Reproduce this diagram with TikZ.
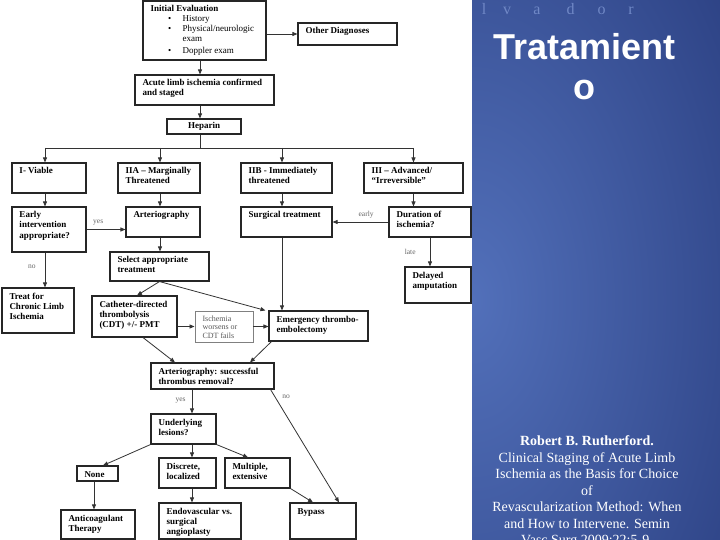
\documentclass[tikz,border=0pt]{standalone}
\usepackage{fontspec}
\setmainfont{Liberation Serif}
\newfontfamily\titlefont{Liberation Sans}
\usetikzlibrary{arrows.meta}
\definecolor{panlight}{RGB}{82,112,186}
\definecolor{pandark}{RGB}{24,40,102}
\definecolor{lvcol}{RGB}{112,136,198}
\def\fbl{11pt}
\tikzset{
 box/.style={draw=black!85, line width=1.1pt, inner xsep=7.5pt, inner ysep=0pt, fill=white, font=\fontsize{9}{10}\selectfont\bfseries},
 graybox/.style={draw=black!50, line width=0.9pt, text=black!65, font=\fontsize{8}{8.8}\selectfont\mdseries, execute at begin node={\def\fbl{10pt}}},
 arr/.style={draw=black!80, line width=0.8pt, -{Triangle[length=5pt,width=4pt]}},
 ln/.style={draw=black!80, line width=0.8pt},
 lbl/.style={font=\fontsize{7.5}{8}\selectfont, text=black!60, inner sep=0pt},
}
\newcommand\bnode[7][]{%
 \pgfmathsetmacro\bcx{#3+#5/2}%
 \pgfmathsetmacro\bcy{#4+#6/2}%
 \pgfmathsetmacro\bw{#5-15}%
 \node[box,#1] (#2) at (\bcx,\bcy) {\parbox[c][#6pt][t]{\bw pt}{\rule{0pt}{\fbl}\begin{tabular}[t]{@{}l@{}}#7\end{tabular}}};}
\begin{document}
\begin{tikzpicture}[x=1pt,y=-1pt]
\useasboundingbox (0,0) rectangle (720,540);
\fill[white] (0,0) rectangle (720,540);
% blue panel
\begin{scope}
\clip (472,0) rectangle (720,540);
\shade[inner color=panlight, outer color=pandark] (472,300) ellipse (500 and 820);
\foreach \ch/\xx [count=\i] in {l/484,v/507,a/537,d/570.5,o/601.7,r/631}
  \node[anchor=base, inner sep=0pt, text=lvcol, font=\fontsize{16}{18}\selectfont] (lv\i) at (\xx,14.5) {\ch};
\node[anchor=base, inner sep=0pt, text=white, font=\titlefont\bfseries\fontsize{36}{40}\selectfont] (t1) at (584.5,60) {Tratamient};
\node[anchor=base, inner sep=0pt, text=white, font=\titlefont\bfseries\fontsize{36}{40}\selectfont] (t2) at (584.5,100) {o};
\node[anchor=north, align=center, text=white, inner sep=0pt, font=\fontsize{14}{16.5}\selectfont] (cite) at (587,435.5) {\textbf{Robert B. Rutherford.}\\Clinical Staging of Acute Limb\\Ischemia as the Basis for Choice\\of\\Revascularization Method: When\\and How to Intervene. Semin\\Vasc Surg 2009;22:5-9.};
\end{scope}
% boxes
\bnode{init}{143}{1}{123}{59}{Initial Evaluation\\
 \mdseries\hspace{17.5pt}\textbullet\hspace{11.5pt}History\\
 \mdseries\hspace{17.5pt}\textbullet\hspace{11.5pt}Physical/neurologic\\[-0.6pt]
 \mdseries\hspace{32.2pt}exam\\[2pt]
 \mdseries\hspace{17.5pt}\textbullet\hspace{11.5pt}Doppler exam}
\bnode{other}{298}{23}{99}{22}{Other Diagnoses}
\bnode{acute}{135}{75}{139}{30}{Acute limb ischemia confirmed\\and staged}
\node[box, minimum width=74pt, minimum height=15pt, inner sep=0pt] (hep) at (204,126.5) {Heparin};
\bnode{v1}{12}{163}{74}{30}{I- Viable}
\bnode{v2}{118}{163}{82}{30}{IIA -- Marginally\\Threatened}
\bnode{v3}{241}{163}{91}{30}{IIB - Immediately\\threatened}
\bnode{v4}{364}{163}{99}{30}{III -- Advanced/\\``Irreversible''}
\bnode{early}{12}{207}{74}{45}{Early\\intervention\\appropriate?}
\bnode{arterio}{126}{207}{74}{30}{Arteriography}
\bnode{surg}{241}{207}{91}{30}{Surgical treatment}
\bnode{dur}{389}{207}{82}{30}{Duration of\\ischemia?}
\bnode{select}{110}{252}{99}{29}{Select appropriate\\treatment}
\bnode{treat}{2}{288}{72}{45}{Treat for\\Chronic Limb\\Ischemia}
\bnode{delayed}{405}{267}{66}{36}{Delayed\\amputation}
\bnode{cdt}{92}{296}{85}{41}{Catheter-directed\\thrombolysis\\(CDT) +/- PMT}
\bnode[graybox]{isch}{195}{311}{58}{31}{Ischemia\\worsens or\\CDT fails}
\bnode{emerg}{269}{311}{99}{30}{Emergency thrombo-\\embolectomy}
\bnode{succ}{151}{363}{123}{26}{Arteriography: successful\\thrombus removal?}
\bnode{under}{151}{414}{65}{30}{Underlying\\lesions?}
\bnode{none}{77}{466}{41}{15}{None}
\bnode{discrete}{159}{458}{57}{30}{Discrete,\\localized}
\bnode{multi}{225}{458}{65}{30}{Multiple,\\extensive}
\bnode{antico}{61}{510}{74}{29}{Anticoagulant\\Therapy}
\bnode{endo}{159}{503}{82}{36}{Endovascular vs.\\surgical\\angioplasty}
\bnode{bypass}{290}{503}{66}{36}{Bypass}
% connectors
\draw[arr] (init.east |- other.west) -- (other.west);
\draw[arr] ([xshift=-4.5pt]init.south) -- ([xshift=-4.5pt]init.south |- acute.north);
\draw[arr] ([xshift=-4.5pt]acute.south) -- ([xshift=-4.5pt]acute.south |- hep.north);
\coordinate (bus) at (200,148);
\draw[ln] ([xshift=-4pt]hep.south) -- ([xshift=-4pt]hep.south |- bus);
\draw[ln] ([xshift=-4pt]v1.north |- bus) -- (v4.north |- bus);
\draw[arr] ([xshift=-4pt]v1.north |- bus) -- ([xshift=-4pt]v1.north);
\draw[arr] ([xshift=1pt]v2.north |- bus) -- ([xshift=1pt]v2.north);
\draw[arr] ([xshift=-4.5pt]v3.north |- bus) -- ([xshift=-4.5pt]v3.north);
\draw[arr] (v4.north |- bus) -- (v4.north);
\draw[arr] ([xshift=-4pt]v1.south) -- ([xshift=-4pt]v1.south |- early.north);
\draw[arr] ([xshift=1pt]v2.south) -- ([xshift=1pt]v2.south |- arterio.north);
\draw[arr] ([xshift=-4.5pt]v3.south) -- ([xshift=-4.5pt]v3.south |- surg.north);
\draw[arr] (v4.south) -- (v4.south |- dur.north);
\draw[arr] (early.east) -- (early.east -| arterio.west) node[lbl, pos=0.3, above=4pt] (lyes1) {yes};
\draw[arr] ([xshift=-4pt]early.south) -- ([xshift=-4pt]early.south |- treat.north) node[lbl, pos=0.4, left=9pt] (lno1) {no};
\draw[arr] ([xshift=-3pt]arterio.south) -- ([xshift=-3pt]arterio.south |- select.north);
\draw[arr] (dur.west) -- (dur.west -| surg.east) node[lbl, pos=0.4, above=3pt] (learly) {early};
\draw[arr] (dur.south) -- (dur.south |- delayed.north) node[lbl, pos=0.5, left=14pt] (llate) {late};
\draw[arr] (select.south) -- ([xshift=2.5pt]cdt.north);
\draw[arr] (select.south) -- ([xshift=-3pt]emerg.north west);
\draw[arr] ([xshift=-4.5pt]surg.south) -- ([xshift=-4.5pt]surg.south |- emerg.north);
\draw[arr] (cdt.east |- isch.west) -- (isch.west);
\draw[arr] (isch.east) -- (isch.east -| emerg.west);
\draw[arr] ([xshift=8.5pt]cdt.south) -- ([xshift=-37.5pt]succ.north);
\draw[arr] ([xshift=3pt]emerg.south west) -- ([xshift=37.5pt]succ.north);
\draw[arr] ([xshift=-20.5pt]succ.south) -- ([xshift=8.5pt]under.north) node[lbl, pos=0.45, left=6pt] (lyes2) {yes};
\draw[arr] ([xshift=-4pt]succ.south east) -- ([xshift=16pt]bypass.north);
\node[lbl] (lno2) at (286,397) {no};
\draw[arr] (under.south west) -- ([xshift=5.5pt]none.north);
\draw[arr] ([xshift=8.5pt]under.south) -- ([xshift=4.5pt]discrete.north);
\draw[arr] (under.south east) -- ([xshift=-9.5pt]multi.north);
\draw[arr] ([xshift=-3.5pt]none.south) -- ([xshift=-3.5pt]none.south |- antico.north);
\draw[arr] ([xshift=4.5pt]discrete.south) -- ([xshift=-8pt]endo.north);
\draw[arr] (multi.south east) -- ([xshift=-10pt]bypass.north);
\end{tikzpicture}
\end{document}
